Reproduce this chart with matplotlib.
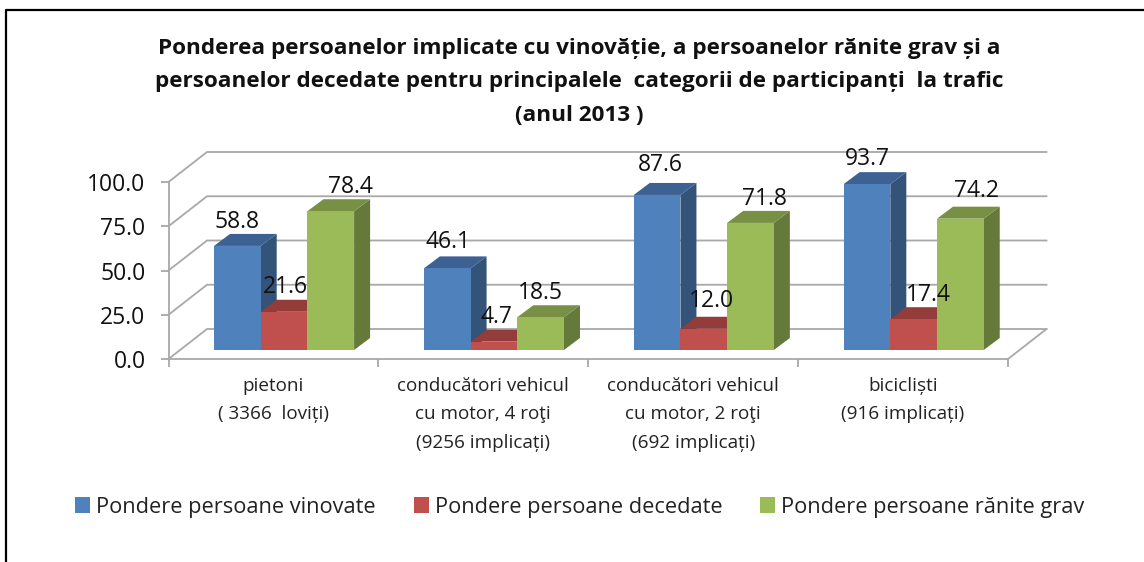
import matplotlib
matplotlib.use("Agg")
import matplotlib.pyplot as plt
from matplotlib.lines import Line2D
from matplotlib.patches import Polygon, Patch

plt.rcParams['font.family'] = ['Open Sans', 'DejaVu Sans']

TITLE = ("Ponderea persoanelor implicate cu vinovăție, a persoanelor rănite grav și a\n"
         "persoanelor decedate pentru principalele  categorii de participanți  la trafic\n"
         "(anul 2013 )")
CATEGORIES = ["pietoni\n( 3366  loviți)",
              "conducători vehicul\ncu motor, 4 roţi\n(9256 implicați)",
              "conducători vehicul\ncu motor, 2 roţi\n(692 implicați)",
              "bicicliști\n(916 implicați)"]
SERIES = ["Pondere persoane vinovate", "Pondere persoane decedate", "Pondere persoane rănite grav"]
VINOVATE = [58.8, 46.1, 87.6, 93.7]
DECEDATE = [21.6, 4.7, 12.0, 17.4]
RANITE = [78.4, 18.5, 71.8, 74.2]
Y_TICKS = [0, 25, 50, 75, 100]

FRONT = ["#4f81bd", "#c0504d", "#9bbb59"]
TOP = ["#3c6192", "#943c3a", "#779044"]
SIDE = ["#335379", "#7f3331", "#65793a"]
GRID = "#a8a8a8"

# deplasari etichete fata de mijlocul barei, in pixeli (pozitionate manual in original)
LABEL_OFFSETS = [[(0, 24), (1, 25), (20, 24)],
                 [(1, 26), (3, 25), (0, 24)],
                 [(3, 30), (8, 28), (14, 24)],
                 [(0, 25), (15, 24), (16, 28)]]

W, H = 1144, 562
fig = plt.figure(figsize=(W / 100, H / 100), dpi=100)

# axa frontala: x 168.5..1008, y 182..359 in pixeli
L, R, T, B = 168.5, 1008, 182, 359
ax = fig.add_axes([L / W, 1 - B / H, (R - L) / W, (B - T) / H])
ax.set_xlim(0, 4)
ax.set_ylim(0, 100)
ax.patch.set_visible(False)

px_x = 4 / (R - L)
px_y = 100 / (B - T)
wall_dx, wall_dy = 38.5 * px_x, 30 * px_y      # adancimea peretelui
bar_dx, bar_dy = 16 * px_x, 12 * px_y          # adancimea barei
floor = 9 * px_y                               # barele stau putin peste axa
bar_w = 46.7 * px_x
start = 45.5 * px_x

for s in ["top", "right"]:
    ax.spines[s].set_visible(False)
for s in ["left", "bottom"]:
    ax.spines[s].set_color(GRID)
    ax.spines[s].set_linewidth(1.3)

# pereti si podea
for v in Y_TICKS:
    ax.plot([0, wall_dx, 4 + wall_dx], [v, v + wall_dy, v + wall_dy],
            color=GRID, lw=1.3, clip_on=False, zorder=1)
ax.plot([4, 4 + wall_dx], [0, wall_dy], color=GRID, lw=1.3, clip_on=False, zorder=1)

# barele se deseneaza de la stanga la dreapta, fiecare o acopera pe cea dinainte
values = [VINOVATE, DECEDATE, RANITE]
for i in range(len(CATEGORIES)):
    for j in range(len(SERIES)):
        x0 = i + start + j * bar_w
        v = values[j][i]
        z = 3 + j * 0.2
        top = floor + v
        ax.add_patch(Polygon([(x0 + bar_w, floor), (x0 + bar_w + bar_dx, floor + bar_dy),
                              (x0 + bar_w + bar_dx, top + bar_dy), (x0 + bar_w, top)],
                             fc=SIDE[j], ec="none", clip_on=False, zorder=z))
        ax.add_patch(Polygon([(x0, top), (x0 + bar_dx, top + bar_dy),
                              (x0 + bar_w + bar_dx, top + bar_dy), (x0 + bar_w, top)],
                             fc=TOP[j], ec="none", clip_on=False, zorder=z))
        ax.bar(x0, v, width=bar_w, bottom=floor, align="edge", color=FRONT[j],
               clip_on=False, zorder=z + 0.1)
        ax.annotate(f"{v:.1f}", xy=(x0 + bar_w / 2, top), xytext=LABEL_OFFSETS[i][j],
                    textcoords="offset pixels", ha="center", va="center", fontsize=16.5,
                    color="#111111", zorder=6, annotation_clip=False)

ax.set_yticks(Y_TICKS, [f"{v:.1f}" for v in Y_TICKS], fontsize=16.5, color="#111111")
ax.set_xticks(range(5), [""] * 5)
ax.tick_params(axis="both", color=GRID, width=1.3, length=6)
ax.tick_params(axis="y", pad=10.5)

for i, c in enumerate(CATEGORIES):
    ax.text(i + 0.5, -0.10, c, transform=ax.get_xaxis_transform(), ha="center", va="top",
            fontsize=13.6, linespacing=1.76, color="#222222", clip_on=False)

fig.suptitle(TITLE, x=579 / W, y=1 - 38 / H, ha="center", va="top", fontsize=16.2,
             fontweight="bold", linespacing=1.78, color="#111111")

handles = [Patch(fc=c, ec="none") for c in FRONT]
fig.legend(handles, SERIES, loc="center", bbox_to_anchor=(580 / W, 1 - 507 / H), ncol=3,
           frameon=False, fontsize=15.7, handlelength=0.69, handleheight=0.8,
           handletextpad=0.27, columnspacing=1.74, labelcolor="#222222")

# chenarul imaginii, deschis jos si in dreapta
fig.add_artist(Line2D([6 / W, 6 / W, 1], [0, 1 - 10 / H, 1 - 10 / H], color="black", lw=1.6))

fig.savefig("out.png", dpi=100)
